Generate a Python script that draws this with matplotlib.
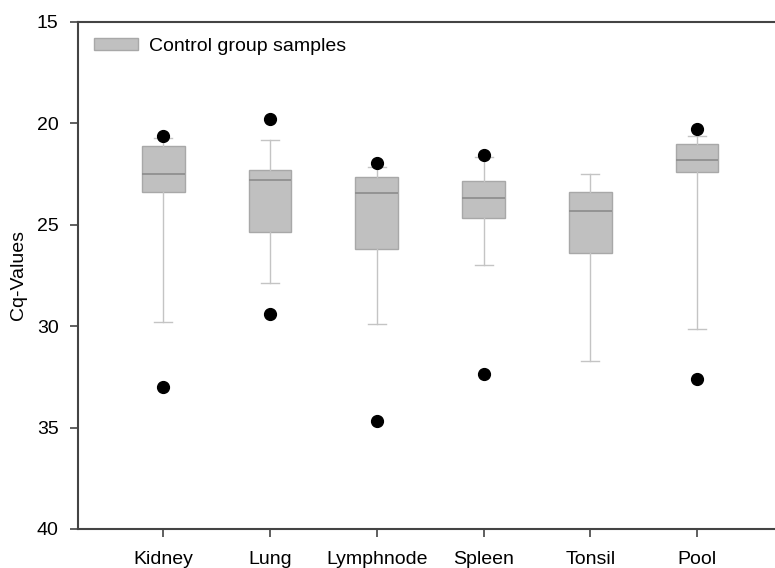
import numpy as np
import matplotlib.pyplot as plt
from matplotlib.patches import Patch

plt.rcParams['font.family'] = ['Liberation Sans', 'DejaVu Sans']

# tissues and box statistics (Cq values)
tissues = ['Kidney', 'Lung', 'Lymphnode', 'Spleen', 'Tonsil', 'Pool']
q1 = [21.1, 22.3, 22.65, 22.85, 23.4, 21.0]
med = [22.5, 22.8, 23.45, 23.7, 24.3, 21.8]
q3 = [23.4, 25.35, 26.2, 24.65, 26.4, 22.4]
whislo = [20.7, 20.8, 22.15, 21.65, 22.5, 20.6]
whishi = [29.8, 27.85, 29.9, 27.0, 31.7, 30.15]
outliers = [[20.6, 33.0], [19.8, 29.4], [21.95, 34.7], [21.55, 32.35], [], [20.3, 32.6]]

stats = []
for i in range(len(tissues)):
    stats.append({'med': med[i], 'q1': q1[i], 'q3': q3[i],
                  'whislo': whislo[i], 'whishi': whishi[i],
                  'fliers': outliers[i], 'label': tissues[i]})

fig = plt.figure(figsize=(7.75, 5.68), dpi=100)
ax = fig.add_axes([0.1006, 0.0687, 0.8994, 0.8926])

pos = np.arange(1, len(tissues) + 1)
ax.bxp(stats, positions=pos, widths=0.4, patch_artist=True, capwidths=0.17,
       boxprops=dict(facecolor='#c0c0c0', edgecolor='#a8a8a8', linewidth=1),
       medianprops=dict(color='#8c8c8c', linewidth=1.2),
       whiskerprops=dict(color='#c4c4c4', linewidth=1),
       capprops=dict(color='#c4c4c4', linewidth=1),
       flierprops=dict(marker='o', markerfacecolor='black', markeredgecolor='black',
                       markersize=8.5, linestyle='none'))

ax.set_xlim(0.2, 6.73)
ax.set_ylim(40, 15)
ax.set_yticks([15, 20, 25, 30, 35, 40])
ax.set_xticks(pos)
ax.set_xticklabels(tissues)
ax.set_ylabel('Cq-Values', fontsize=14, labelpad=7)
ax.tick_params(axis='both', labelsize=14, direction='out', length=6, width=1.2,
               color='#444444')
ax.tick_params(axis='x', pad=10)
ax.tick_params(axis='y', pad=8)

for s in ['left', 'top', 'bottom']:
    ax.spines[s].set_color('#444444')
    ax.spines[s].set_linewidth(1.5)
ax.spines['right'].set_visible(False)

handle = Patch(facecolor='#c0c0c0', edgecolor='#a8a8a8', label='Control group samples')
ax.legend(handles=[handle], loc='upper left', frameon=False, fontsize=14,
          handlelength=2.3, handleheight=0.6, borderaxespad=0.4, borderpad=0.4,
          handletextpad=0.55)

plt.savefig('out.png', dpi=100)
